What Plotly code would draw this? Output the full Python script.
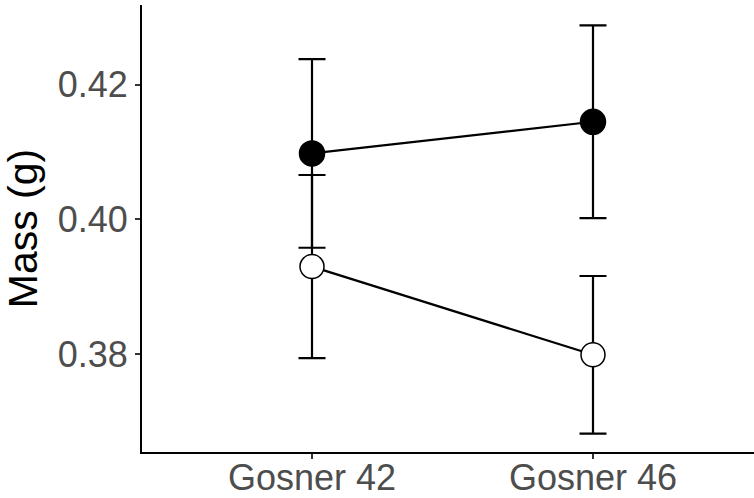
import plotly.graph_objects as go

categories = ["Gosner 42", "Gosner 46"]
black_mean = [0.4098, 0.4145]
black_err = [0.0140, 0.0143]
white_mean = [0.3930, 0.3799]
white_err = [0.0136, 0.0117]
y_ticks = [0.38, 0.40, 0.42]
y_tick_labels = ["0.38", "0.40", "0.42"]

xpos = list(range(len(categories)))

fig = go.Figure()
fig.add_trace(go.Scatter(
    x=xpos, y=black_mean, mode="lines+markers",
    line=dict(color="black", width=2.2),
    marker=dict(size=25, color="black", line=dict(color="black", width=1.5)),
    error_y=dict(type="data", array=black_err, visible=True, color="black", thickness=2.2, width=13.5),
    showlegend=False,
))
fig.add_trace(go.Scatter(
    x=xpos, y=white_mean, mode="lines+markers",
    line=dict(color="black", width=2.2),
    marker=dict(size=24, color="white", line=dict(color="black", width=1.5)),
    error_y=dict(type="data", array=white_err, visible=True, color="black", thickness=2.2, width=13.5),
    showlegend=False,
))

fig.update_layout(
    width=754, height=498,
    margin=dict(l=142, r=0, t=5, b=46),
    plot_bgcolor="white", paper_bgcolor="white",
    font=dict(family="Liberation Sans, Arial, sans-serif"),
)
fig.update_xaxes(
    range=[-0.605, 1.573], automargin=False,
    tickmode="array", tickvals=xpos, ticktext=categories,
    showgrid=False, zeroline=False,
    showline=True, linecolor="black", linewidth=2,
    ticks="outside", ticklen=5, tickwidth=2, tickcolor="#333333",
    tickfont=dict(size=36, color="#4D4D4D"),
    ticklabelstandoff=-12,
)
fig.update_yaxes(
    range=[0.36547, 0.43184], automargin=False,
    tickmode="array", tickvals=y_ticks, ticktext=y_tick_labels,
    showgrid=False, zeroline=False,
    showline=True, linecolor="black", linewidth=2,
    ticks="outside", ticklen=5, tickwidth=2, tickcolor="#333333",
    tickfont=dict(size=36, color="#4D4D4D"),
    title=dict(text="Mass (g)", font=dict(size=41, color="black"), standoff=12),
)

fig.write_html("out.html")
